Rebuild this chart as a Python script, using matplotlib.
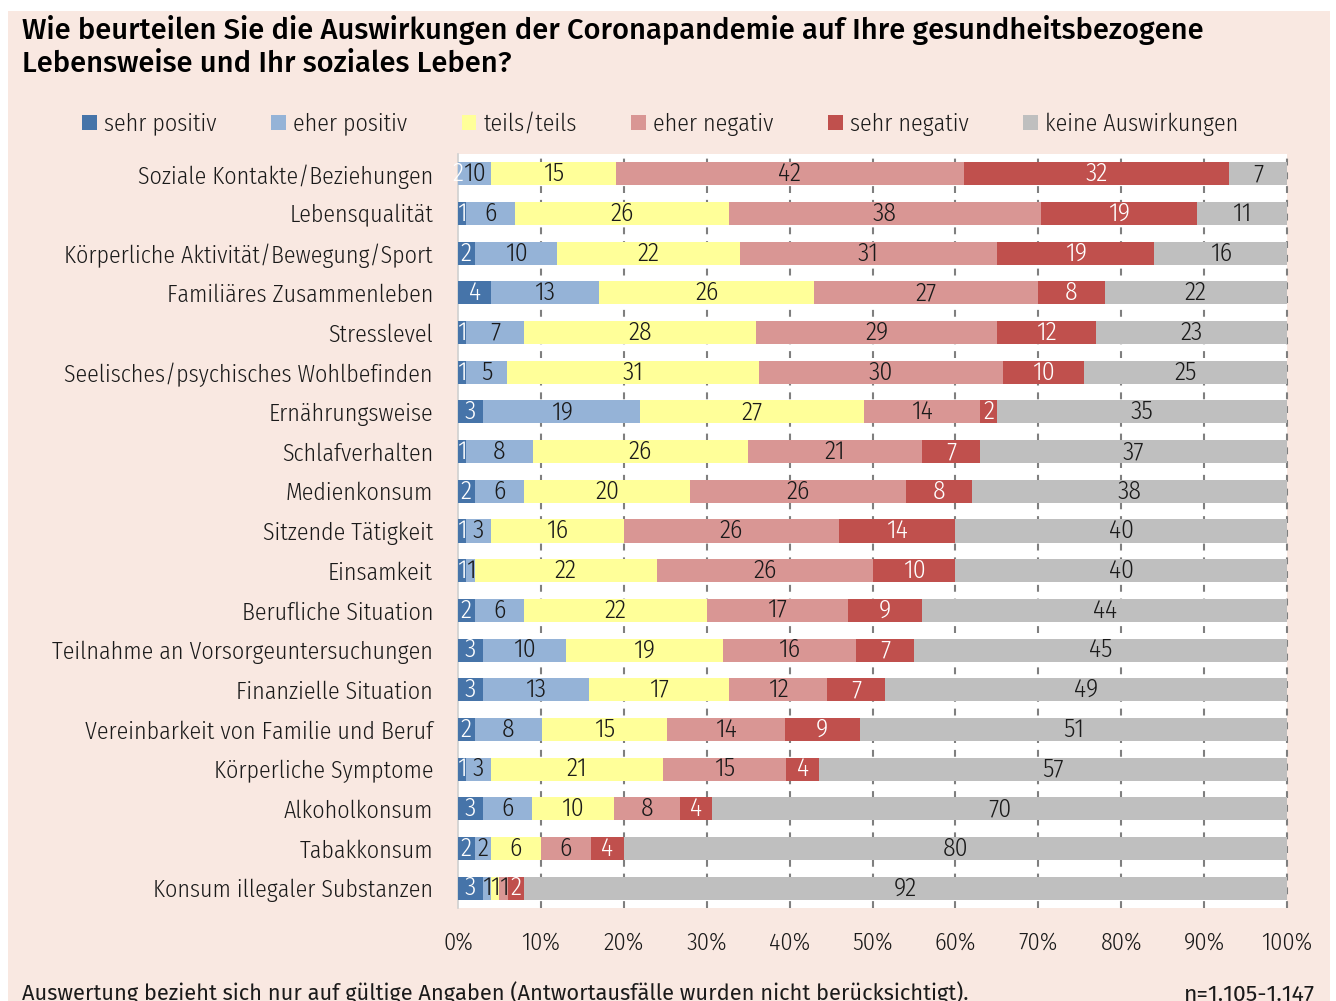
import matplotlib
matplotlib.use("Agg")
import matplotlib.pyplot as plt
from matplotlib.patches import Rectangle, Patch
import numpy as np

plt.rcParams['font.family'] = ['Fira Sans Condensed', 'DejaVu Sans']
plt.rcParams['font.weight'] = 300

# answer categories (legend order)
series = ['sehr positiv', 'eher positiv', 'teils/teils', 'eher negativ',
          'sehr negativ', 'keine Auswirkungen']
colors = ['#4674A9', '#95B3D7', '#FFFF99', '#D99694', '#C0504D', '#BFBFBF']
label_colors = ['white', '#1A1A1A', '#1A1A1A', '#1A1A1A', 'white', '#1A1A1A']

categories = [
    'Soziale Kontakte/Beziehungen',
    'Lebensqualität',
    'Körperliche Aktivität/Bewegung/Sport',
    'Familiäres Zusammenleben',
    'Stresslevel',
    'Seelisches/psychisches Wohlbefinden',
    'Ernährungsweise',
    'Schlafverhalten',
    'Medienkonsum',
    'Sitzende Tätigkeit',
    'Einsamkeit',
    'Berufliche Situation',
    'Teilnahme an Vorsorgeuntersuchungen',
    'Finanzielle Situation',
    'Vereinbarkeit von Familie und Beruf',
    'Körperliche Symptome',
    'Alkoholkonsum',
    'Tabakkonsum',
    'Konsum illegaler Substanzen',
]

# printed percentages per row, in series order
sehr_positiv = [2, 1, 2, 4, 1, 1, 3, 1, 2, 1, 1, 2, 3, 3, 2, 1, 3, 2, 3]
eher_positiv = [10, 6, 10, 13, 7, 5, 19, 8, 6, 3, 1, 6, 10, 13, 8, 3, 6, 2, 1]
teils_teils = [15, 26, 22, 26, 28, 31, 27, 26, 20, 16, 22, 22, 19, 17, 15, 21, 10, 6, 1]
eher_negativ = [42, 38, 31, 27, 29, 30, 14, 21, 26, 26, 26, 17, 16, 12, 14, 15, 8, 6, 1]
sehr_negativ = [32, 19, 19, 8, 12, 10, 2, 7, 8, 14, 10, 9, 7, 7, 9, 4, 4, 4, 2]
keine = [7, 11, 16, 22, 23, 25, 35, 37, 38, 40, 40, 44, 45, 49, 51, 57, 70, 80, 92]

# first row: the drawn bar widths differ from its printed labels (as in the source)
soziale_widths = [0, 4, 15, 42, 32, 7]

title = ('Wie beurteilen Sie die Auswirkungen der Coronapandemie auf Ihre gesundheitsbezogene\n'
         'Lebensweise und Ihr soziales Leben?')
footnote = 'Auswertung bezieht sich nur auf gültige Angaben (Antwortausfälle wurden nicht berücksichtigt).'
n_note = 'n=1.105-1.147'

labels = np.array([sehr_positiv, eher_positiv, teils_teils, eher_negativ, sehr_negativ, keine], dtype=float)
widths = labels.copy()
widths[:, 0] = soziale_widths
widths = widths / widths.sum(axis=0) * 100

fig = plt.figure(figsize=(13.36, 10.01), dpi=100, facecolor='white')
fig.patches.append(Rectangle((8 / 1336, 0), 1322 / 1336, 1 - 11 / 1001,
                             transform=fig.transFigure, facecolor='#F9E8E1',
                             edgecolor='none', zorder=-10))

ax = fig.add_axes([458 / 1336, 1 - 908 / 1001, 829 / 1336, 754 / 1001])
ax.set_facecolor('white')

y = np.arange(len(categories))
left = np.zeros(len(categories))
for i, name in enumerate(series):
    bars = ax.barh(y, widths[i], left=left, height=0.58, color=colors[i],
                   edgecolor='none', label=name, zorder=3)
    ax.bar_label(bars, labels=[f'{v:.0f}' for v in labels[i]], label_type='center',
                 color=label_colors[i], fontsize=18.5, zorder=4)
    left += widths[i]

ax.set_xlim(0, 100)
ax.set_ylim(len(categories) - 0.5, -0.5)
ax.set_xticks(np.arange(0, 101, 10))
ax.set_xticklabels([f'{v}%' for v in range(0, 101, 10)], fontsize=17.5, color='#1A1A1A')
ax.set_yticks(y)
ax.set_yticklabels(categories, fontsize=17.2, color='#1A1A1A')
ax.tick_params(axis='both', length=0)
ax.tick_params(axis='x', pad=17)
ax.tick_params(axis='y', pad=18)

for v in range(10, 101, 10):
    ax.axvline(v, color='#7F7F7F', lw=1.5, ls=(0, (3.3, 3.3)), zorder=1, clip_on=False)
for s in ['top', 'right', 'bottom']:
    ax.spines[s].set_visible(False)
ax.spines['left'].set_color('#D0D0D0')
ax.spines['left'].set_linewidth(1.2)

handles = [Patch(facecolor=c, edgecolor='none') for c in colors]
fig.legend(handles, series, loc='center left', bbox_to_anchor=(82 / 1336, 1 - 124 / 1001),
           ncol=6, frameon=False, fontsize=17.2, handlelength=0.62, handleheight=0.62,
           handletextpad=0.3, columnspacing=2.28, borderpad=0, borderaxespad=0,
           labelcolor='#1A1A1A')

fig.text(22 / 1336, 1 - 15 / 1001, title, ha='left', va='top', fontsize=21,
         fontweight=500, color='black', linespacing=1.2,
         family=['Fira Sans', 'DejaVu Sans'])
fig.text(22 / 1336, 0.0005, footnote, ha='left', va='baseline', fontsize=15.7, color='#1A1A1A',
         fontweight=400, family=['Fira Sans', 'DejaVu Sans'])
fig.text(1315 / 1336, 0.0005, n_note, ha='right', va='baseline', fontsize=16.5, color='#1A1A1A',
         fontweight=400, family=['Fira Sans', 'DejaVu Sans'])

fig.savefig('out.png', dpi=100, facecolor=fig.get_facecolor())
